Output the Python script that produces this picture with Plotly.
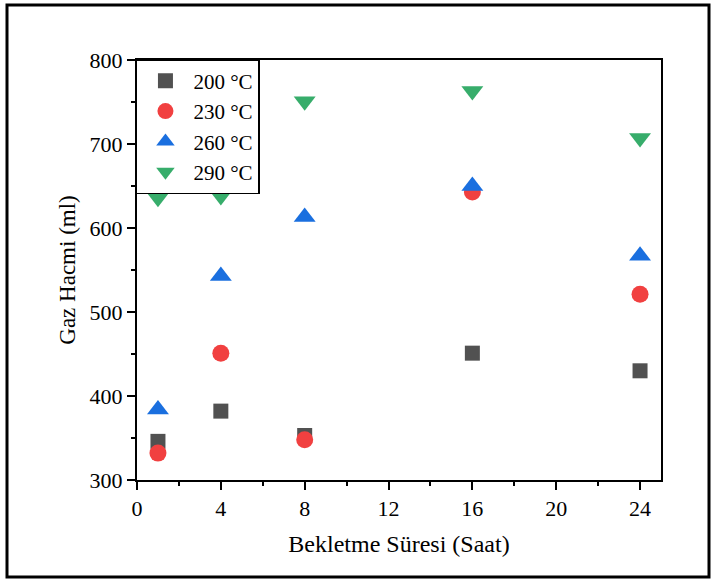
import plotly.graph_objects as go

hours = [1, 4, 8, 16, 24]
series_names = ["200 °C", "230 °C", "260 °C", "290 °C"]
v200 = [346, 382, 353, 451, 430]
v230 = [332, 451, 348, 643, 521]
v260 = [384, 543, 613, 650, 567]
v290 = [636, 638, 751, 763, 707]
colors = ["#515151", "#F14040", "#1A6FDF", "#37AD6B"]
symbols = ["square", "circle", "triangle-up", "triangle-down"]
sizes = [15, 17, 19, 19]

fig = go.Figure()
for name, vals, c, s, sz in zip(series_names, [v200, v230, v260, v290], colors, symbols, sizes):
    fig.add_trace(go.Scatter(x=hours, y=vals, mode="markers", name=name,
                             marker=dict(color=c, symbol=s, size=sz, line=dict(width=0))))

font = "Liberation Serif, Times New Roman, serif"
fig.update_layout(
    width=714, height=580,
    margin=dict(l=137, r=53, t=60, b=100),
    paper_bgcolor="white", plot_bgcolor="white",
    font=dict(family=font, size=22, color="black"),
    showlegend=True,
    legend=dict(x=-0.002, y=1.002, xanchor="left", yanchor="top", bgcolor="white",
                bordercolor="black", borderwidth=1.5, font=dict(size=21),
                itemsizing="trace", tracegroupgap=0, itemwidth=46),
    xaxis=dict(range=[0, 25], tickvals=[0, 4, 8, 12, 16, 20, 24], ticks="outside",
               ticklen=8, tickwidth=2, tickcolor="black", showline=True, linewidth=2,
               linecolor="black", mirror=True, showgrid=False, zeroline=False,
               title=dict(text="Bekletme Süresi (Saat)", font=dict(size=24), standoff=15),
               tickfont=dict(size=22),
               minor=dict(dtick=2, tick0=0, ticks="outside", ticklen=4, tickwidth=2, tickcolor="black")),
    yaxis=dict(range=[300, 800], dtick=100, ticks="outside", ticklen=8, tickwidth=2,
               tickcolor="black", showline=True, linewidth=2, linecolor="black",
               mirror=True, showgrid=False, zeroline=False,
               title=dict(text="Gaz Hacmi (ml)", font=dict(size=23), standoff=8),
               tickfont=dict(size=22),
               minor=dict(dtick=50, tick0=300, ticks="outside", ticklen=4, tickwidth=2, tickcolor="black")),
)

# outer frame around the whole figure
fig.add_shape(type="rect", xref="paper", yref="paper",
              x0=(7 - 137) / 524, x1=(709 - 137) / 524,
              y0=(480 - 577) / 420, y1=(480 - 5) / 420,
              line=dict(color="black", width=3), layer="above")

fig.write_html("out.html")
